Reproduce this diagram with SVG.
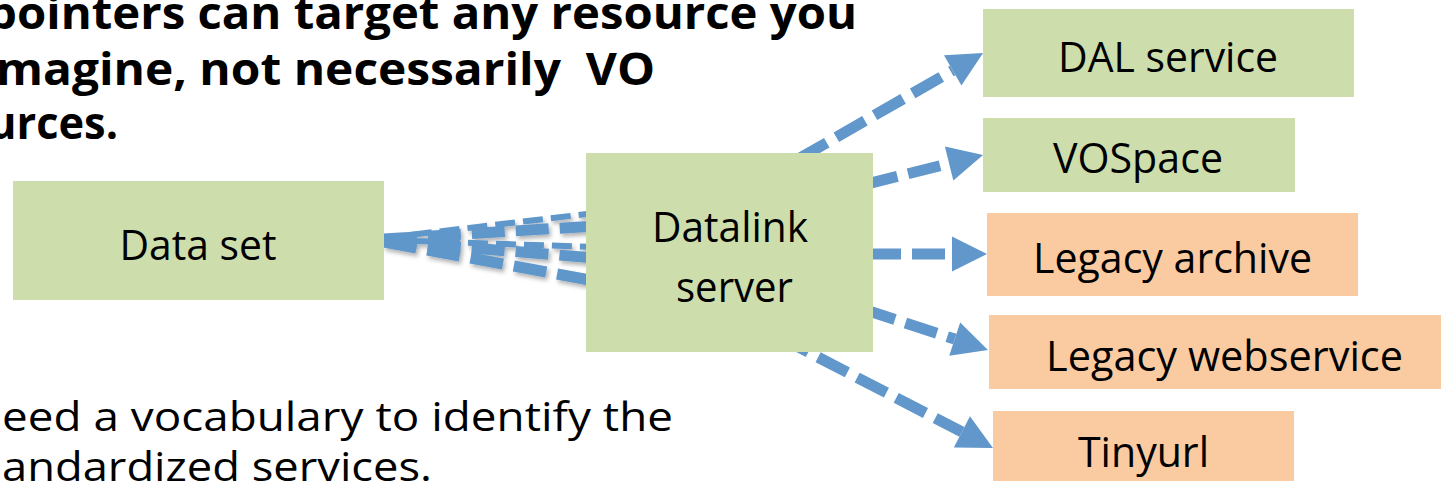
<svg xmlns="http://www.w3.org/2000/svg" width="1441" height="481" viewBox="0 0 1441 481">
  <defs>
    <style>
      .green { fill: #CDDDAC; }
      .orange { fill: #FACBA1; }
      .label { font-family: "Open Sans", "Noto Sans", "Liberation Sans", sans-serif; font-size: 42px; fill: #000; }
      .title { font-family: "Open Sans", "Noto Sans", "Liberation Sans", sans-serif; font-size: 44px; font-weight: bold; fill: #000; white-space: pre; }
      .body { font-family: "Open Sans", "Noto Sans", "Liberation Sans", sans-serif; font-size: 41px; fill: #000; }
      .link { fill: none; stroke: #6197CB; stroke-linecap: butt; }
      .thin { stroke-width: 6; stroke-dasharray: 20 8; }
      .thick { stroke-width: 11; stroke-dasharray: 33 11; }
    </style>
    <marker id="head" viewBox="0 -18 36 36" markerWidth="36" markerHeight="36" refX="0" refY="0" orient="auto" markerUnits="userSpaceOnUse" overflow="visible">
      <path d="M0,-17.5 L35,0 L0,17.5 Z" fill="#6197CB"/>
    </marker>
    <filter id="shadow" x="-10%" y="-50%" width="120%" height="200%">
      <feDropShadow dx="2" dy="3" stdDeviation="2" flood-color="#000" flood-opacity="0.3"/>
    </filter>
  </defs>

  <rect width="1441" height="481" fill="#fff"/>

  <!-- heading and notes -->
  <g id="notes">
    <text class="title" x="-13" y="29" textLength="870" lengthAdjust="spacingAndGlyphs">pointers can target any resource you</text>
    <text class="title" x="-4" y="85" textLength="659" lengthAdjust="spacingAndGlyphs" xml:space="preserve">magine, not necessarily  VO</text>
    <text class="title" x="-12" y="139" textLength="130" lengthAdjust="spacingAndGlyphs">urces.</text>
    <text class="body" x="2" y="431" textLength="671" lengthAdjust="spacingAndGlyphs">eed a vocabulary to identify the</text>
    <text class="body" x="2" y="481" textLength="430" lengthAdjust="spacingAndGlyphs">andardized services.</text>
  </g>

  <!-- connectors -->
  <g id="connectors">
    <g filter="url(#shadow)">
      <line class="link thin" x1="384" y1="238" x2="595" y2="213"/>
      <line class="link thick" x1="384" y1="239" x2="595" y2="226"/>
      <line class="link thin" x1="384" y1="240" x2="595" y2="247"/>
      <line class="link thick" x1="384" y1="241" x2="595" y2="258"/>
      <line class="link thick" x1="384" y1="242" x2="595" y2="281"/>
    </g>
    <line class="link thick" x1="760" y1="181" x2="952.7" y2="70.4" marker-end="url(#head)"/>
    <line class="link thick" x1="780" y1="205.8" x2="949.1" y2="163.5" marker-end="url(#head)"/>
    <line class="link thick" x1="780" y1="254" x2="952" y2="254" marker-end="url(#head)"/>
    <line class="link thick" x1="780" y1="281.8" x2="954.7" y2="339.1" marker-end="url(#head)"/>
    <line class="link thick" x1="740" y1="316.7" x2="961.9" y2="431.9" marker-end="url(#head)"/>
  </g>

  <!-- nodes -->
  <g id="data-set">
    <rect class="green" x="13" y="181" width="371" height="119"/>
    <text class="label" x="198" y="260" text-anchor="middle" textLength="157" lengthAdjust="spacingAndGlyphs">Data set</text>
  </g>
  <g id="datalink-server">
    <rect class="green" x="586" y="153" width="287" height="199"/>
    <text class="label" x="730" y="242" text-anchor="middle" textLength="156" lengthAdjust="spacingAndGlyphs">Datalink</text>
    <text class="label" x="734.5" y="302" text-anchor="middle" textLength="117" lengthAdjust="spacingAndGlyphs">server</text>
  </g>
  <g id="dal-service">
    <rect class="green" x="983" y="9" width="371" height="88"/>
    <text class="label" x="1058" y="72" textLength="220" lengthAdjust="spacingAndGlyphs">DAL service</text>
  </g>
  <g id="vospace">
    <rect class="green" x="983" y="118" width="312" height="74"/>
    <text class="label" x="1053" y="173" textLength="170" lengthAdjust="spacingAndGlyphs">VOSpace</text>
  </g>
  <g id="legacy-archive">
    <rect class="orange" x="987" y="213" width="371" height="83"/>
    <text class="label" x="1033" y="273" textLength="279" lengthAdjust="spacingAndGlyphs">Legacy archive</text>
  </g>
  <g id="legacy-webservice">
    <rect class="orange" x="989" y="315" width="452" height="74"/>
    <text class="label" x="1046" y="371" textLength="357" lengthAdjust="spacingAndGlyphs">Legacy webservice</text>
  </g>
  <g id="tinyurl">
    <rect class="orange" x="993" y="411" width="301" height="70"/>
    <text class="label" x="1078" y="467" textLength="131" lengthAdjust="spacingAndGlyphs">Tinyurl</text>
  </g>
</svg>
